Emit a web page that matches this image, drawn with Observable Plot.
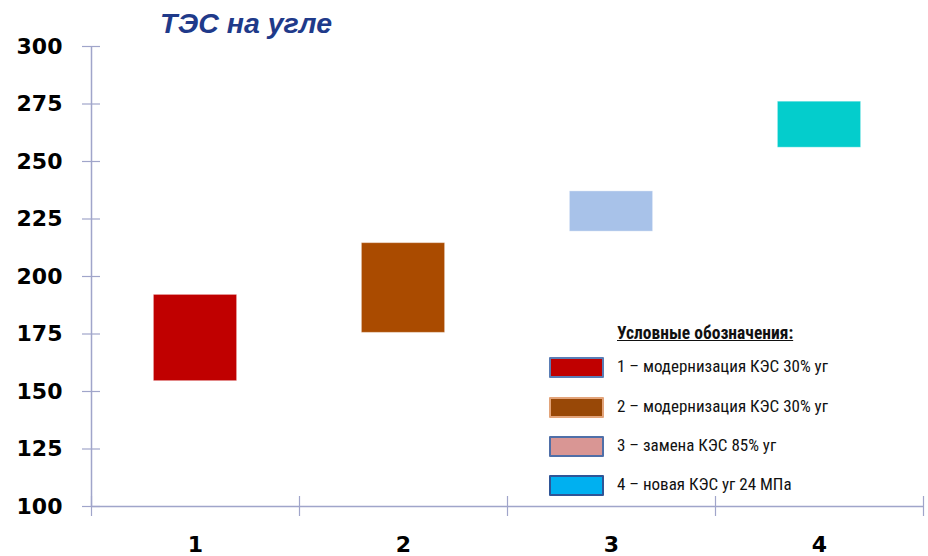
<!DOCTYPE html>
<html>
<head>
<meta charset="utf-8">
<script src="https://cdn.jsdelivr.net/npm/d3@7"></script>
<script src="https://cdn.jsdelivr.net/npm/@observablehq/plot@0.6"></script>
<style>
  html, body { margin: 0; padding: 0; background: #fff; }
  #wrap { position: relative; width: 928px; height: 556px; overflow: hidden; }
  #title {
    position: absolute; left: 160px; top: 9px; line-height: 1;
    font-family: "Liberation Sans", Arial, sans-serif; font-weight: bold; font-style: italic;
    font-size: 28.5px; color: #1F3A8A; white-space: nowrap;
  }
  .lg { position: absolute; font-family: "Liberation Sans Narrow", "Roboto Condensed", "Liberation Sans", sans-serif;
        color: #111; white-space: nowrap; line-height: 1; }
  .lg-title { font-weight: bold; text-decoration: underline; font-size: 17.5px; }
  .lg-text { font-size: 17px; }
  .sw { position: absolute; width: 51px; height: 17px; border: 2px solid; border-radius: 1px; }
</style>
</head>
<body>
<div id="wrap"></div>
<script>
// ---- data ----
const categories = [1, 2, 3, 4];
const lowValues = [154.5, 175.5, 219.5, 256];
const highValues = [192, 214.5, 237, 276];
const barColors = ["#C00000", "#AA4B00", "#A8C2E9", "#04CDCC"];
const yTicks = [100, 125, 150, 175, 200, 225, 250, 275, 300];
const xBoundaries = [0.5, 1.5, 2.5, 3.5, 4.5];
const chartTitle = "ТЭС на угле";
const legendTitle = "Условные обозначения:";
const legendLabels = [
  "1 – модернизация КЭС 30% уг",
  "2 – модернизация КЭС 30% уг",
  "3 – замена КЭС 85% уг",
  "4 – новая КЭС уг 24 МПа"
];
const legendFills = ["#C00000", "#984807", "#D99694", "#00B0F0"];
const legendStrokes = ["#5A7DB5", "#E3A47A", "#4F6FA8", "#2F5597"];

// ---- build ----
const axisColor = "#A0A5CA";
const bars = categories.map((c, i) => ({cat: c, lo: lowValues[i], hi: highValues[i], color: barColors[i]}));

const chart = Plot.plot({
  width: 928,
  height: 556,
  marginLeft: 91,
  marginRight: 5,
  marginTop: 46,
  marginBottom: 50,
  x: {domain: [0.5, 4.5], axis: null},
  y: {domain: [100, 300], axis: null},
  style: {fontFamily: "DejaVu Sans", fontWeight: "bold", fontSize: "22px", color: "#000", background: "#fff"},
  marks: [
    Plot.rectY(bars, {x1: d => d.cat - 0.2, x2: d => d.cat + 0.2, y1: "lo", y2: "hi", fill: "color",
      stroke: "#fff", strokeOpacity: 0.35, strokeWidth: 1}),
    Plot.ruleX([0.5], {stroke: axisColor, strokeWidth: 1.5}),
    Plot.ruleY([100], {stroke: axisColor, strokeWidth: 1.5}),
    Plot.ruleY(yTicks, {y: d => d, x1: 0.5, x2: 0.5, insetLeft: -9, insetRight: -9, stroke: axisColor, strokeWidth: 1.2}),
    Plot.ruleX(xBoundaries, {x: d => d, y1: 100, y2: 100, insetTop: -10, insetBottom: -10, stroke: axisColor, strokeWidth: 1.2}),
    Plot.axisY({ticks: yTicks, tickSize: 0, tickPadding: 29, label: null, fill: "#000", fontSize: 22, fontWeight: "bold"}),
    Plot.axisX({ticks: categories, tickSize: 0, tickPadding: 30, label: null, fill: "#000", fontSize: 22, fontWeight: "bold",
      tickFormat: d => String(d)})
  ]
});

const wrap = d3.select("#wrap");
wrap.node().appendChild(chart);
wrap.append("div").attr("id", "title").text(chartTitle);

wrap.append("div").attr("class", "lg lg-title").style("left", "617px").style("top", "325px").text(legendTitle);
const rowCenters = [367, 407, 446, 485];
legendLabels.forEach((lab, i) => {
  wrap.append("div").attr("class", "sw")
    .style("left", "549px").style("top", (rowCenters[i] - 10) + "px")
    .style("background", legendFills[i]).style("border-color", legendStrokes[i]);
  wrap.append("div").attr("class", "lg lg-text")
    .style("left", "617px").style("top", (rowCenters[i] - 9) + "px").text(lab);
});
</script>
</body>
</html>
